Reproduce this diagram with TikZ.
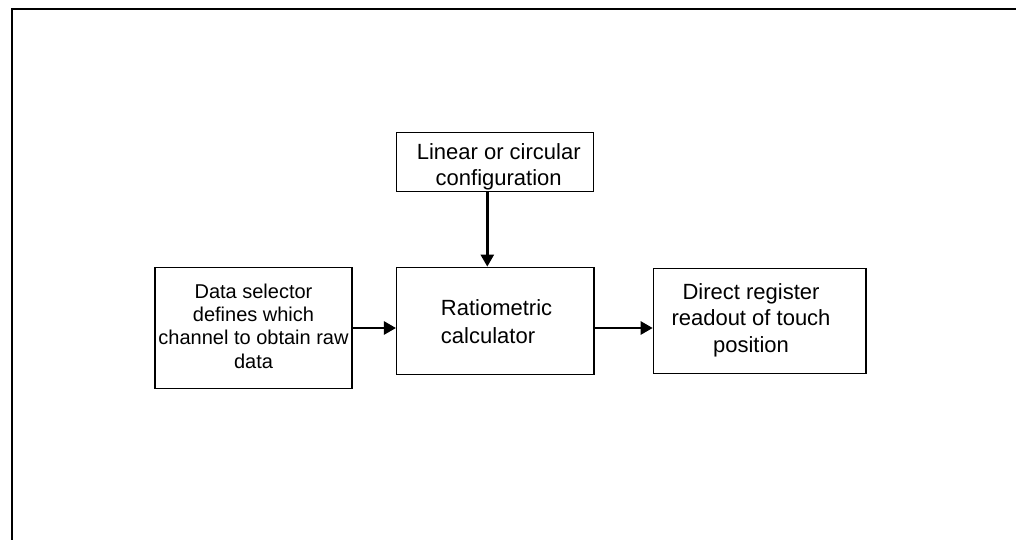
\documentclass[tikz,border=0pt]{standalone}
\usepackage{fontspec}
\setmainfont{Liberation Sans}
\usetikzlibrary{arrows.meta}
\tikzset{
  box/.style={draw, line width=1pt, inner sep=0pt},
  lbl/.style={inner sep=0pt, align=center},
  arr/.style={line width=1.9pt, -{Triangle[length=9pt,width=9.75pt]}},
  frame/.style={line width=1.5pt}
}
\begin{document}
\begin{tikzpicture}[x=0.75pt,y=-0.75pt]
\useasboundingbox (0,0) rectangle (1016,539);
% frame
\coordinate (fa) at (12,545);
\coordinate (fb) at (12,9);
\coordinate (fc) at (1022,9);
\draw[frame] (fa) -- (fb) -- (fc);
% boxes
\node[box, minimum width=147.45pt, minimum height=44.25pt] (cfg) at (495,162.2) {};
\node[box, minimum width=148pt, minimum height=80.25pt] (calc) at (495.3,320.8) {};
\node[box, minimum width=147.75pt, minimum height=90.45pt] (sel) at (253.5,328) {};
\node[box, minimum width=159.5pt, minimum height=78.75pt] (out) at (759.7,320.8) {};
% texts (base anchor = baseline of last line)
\node[lbl, anchor=base, font=\fontsize{16.5}{19.3}\selectfont] (cfgt) at (498.7,185) {Linear or circular\\configuration};
\node[lbl, align=left, anchor=base west, font=\fontsize{16.5}{21.2}\selectfont] (calct) at (440.7,343.3) {Ratiometric\\calculator};
\node[lbl, anchor=base, font=\fontsize{15}{17.5}\selectfont] (selt) at (253.5,368.3) {Data selector\\defines which\\channel to obtain raw\\data};
\node[lbl, anchor=base, font=\fontsize{16.5}{20.1}\selectfont] (outt) at (751,352.7) {Direct register\\readout of touch\\position};
% connectors
\coordinate (vx) at (487.3,0);
\draw[arr] (cfg.south -| vx) -- (calc.north -| vx);
\draw[arr] (sel.east) -- (sel.east -| calc.west);
\draw[arr] (sel.east -| calc.east) -- (sel.east -| out.west);
\end{tikzpicture}
\end{document}
